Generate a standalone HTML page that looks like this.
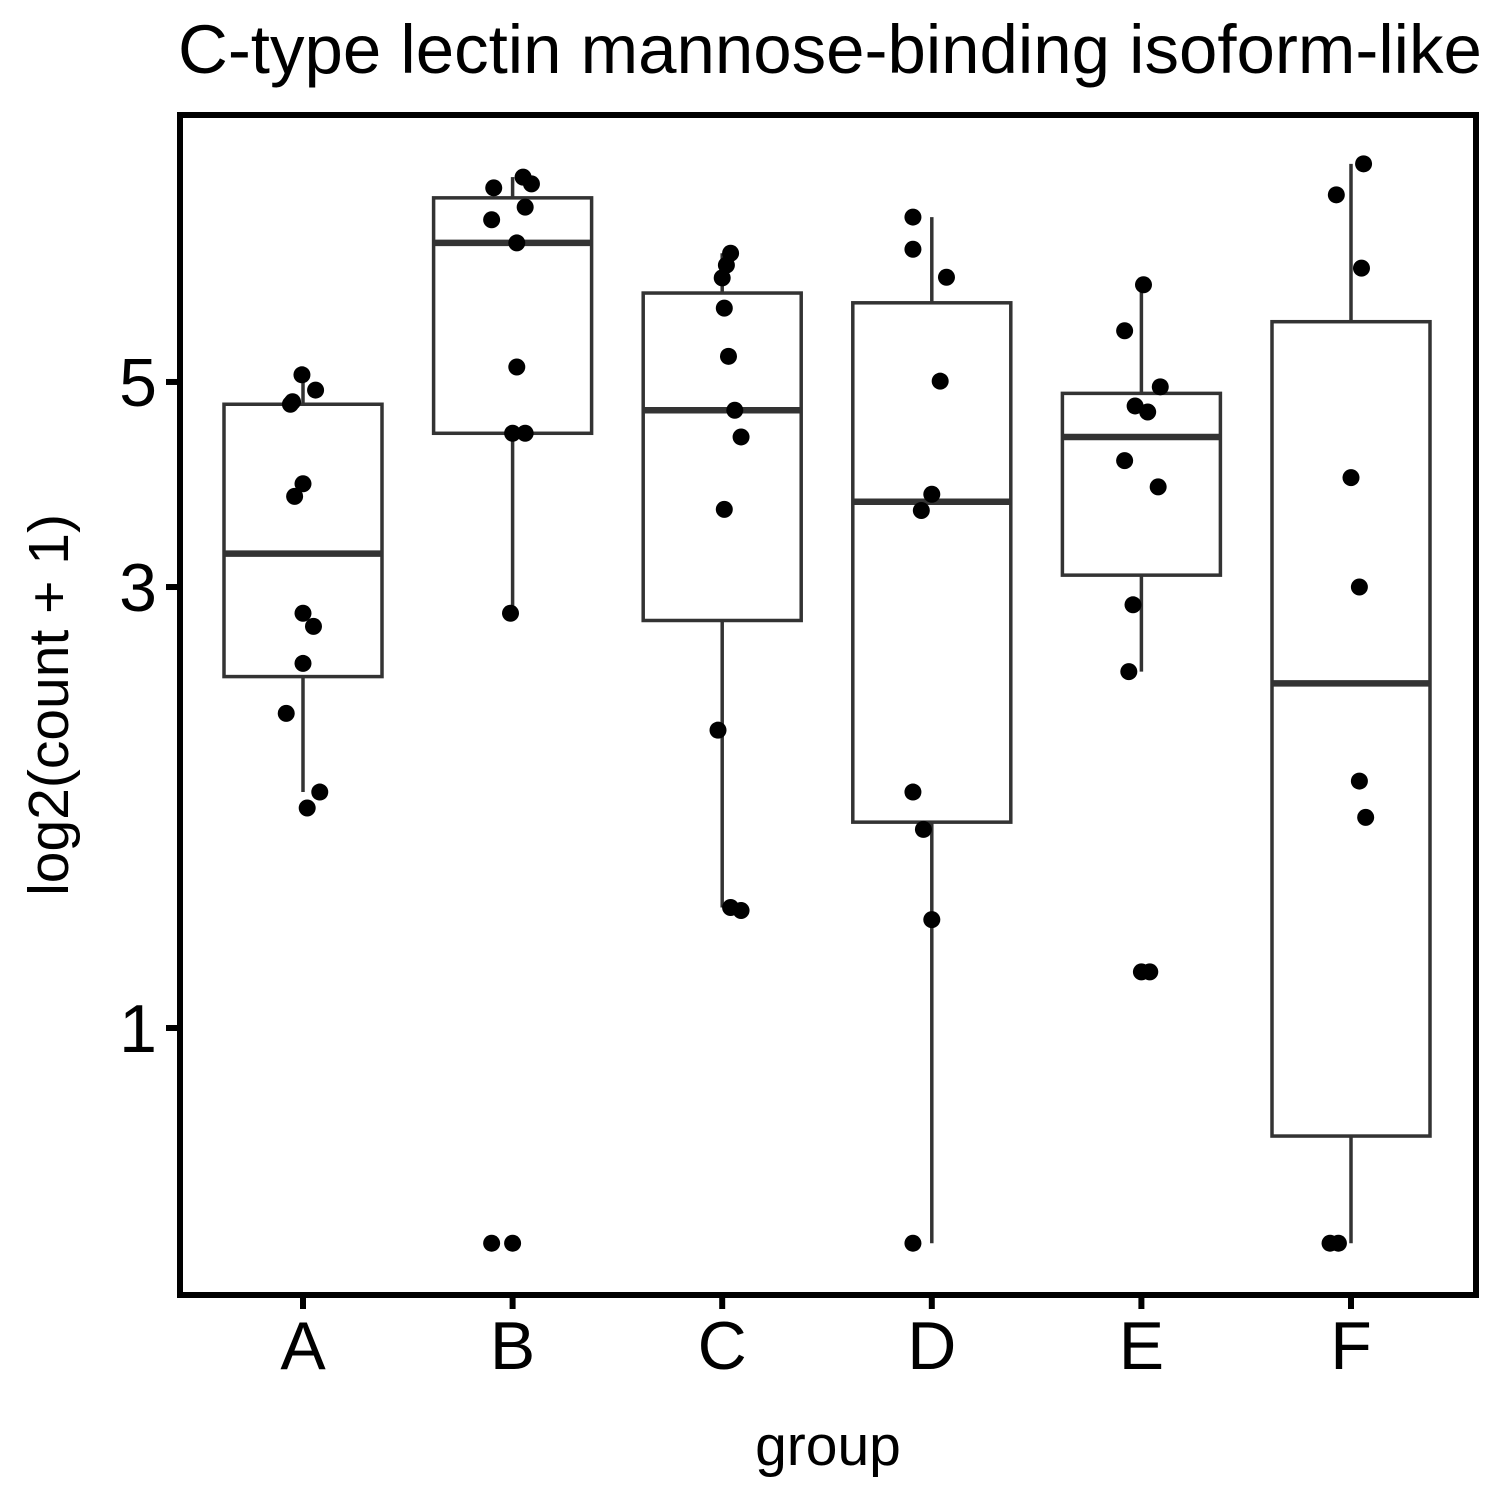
<!DOCTYPE html>
<html><head><meta charset="utf-8"><style>
body{margin:0;background:#fff}
text{font-family:"Liberation Sans",sans-serif}
</style></head><body>
<svg id="chart" width="1500" height="1500" viewBox="0 0 1500 1500" xmlns="http://www.w3.org/2000/svg">
<rect width="1500" height="1500" fill="#fff"/>
<text x="178" y="73" font-size="69">C-type lectin mannose-binding isoform-like</text>
<g id="marks"></g>
<rect x="180" y="115" width="1296" height="1180" fill="none" stroke="#000" stroke-width="6"/>
<g id="axes"></g>
<text x="828" y="1465" font-size="57" text-anchor="middle">group</text>
<text transform="translate(68,705) rotate(-90)" font-size="57" text-anchor="middle">log2(count + 1)</text>
</svg>
<script>
const categories = ["A","B","C","D","E","F"];
const yTicks = [1,3,5];
const q1 = [2.40,4.40,2.76,1.67,3.09,0.764];
const median = [3.26,7.07,4.66,3.71,4.36,2.36];
const q3 = [4.73,7.91,6.24,6.09,4.86,5.81];
const whiskerLow = [1.80,2.81,1.35,0.585,2.43,0.585];
const whiskerHigh = [5.0,8.33,6.89,7.54,6.37,8.61];
const pointsA = [5.09,4.90,4.73,4.76,3.88,3.76,2.81,2.72,2.48,2.19,1.80,1.73];
const pointsB = [8.11,8.33,8.19,7.49,7.73,7.07,5.19,4.40,4.40,2.81,0.585,0.585];
const pointsC = [6.89,6.69,6.48,6.01,5.33,4.66,4.36,3.64,2.10,1.35,1.34];
const pointsD = [7.54,6.96,6.49,5.01,3.78,3.63,1.80,1.64,1.31,0.585];
const pointsE = [6.37,5.68,4.94,4.71,4.64,4.11,3.85,2.87,2.43,1.15,1.15];
const pointsF = [8.61,7.97,6.64,3.94,3.0,1.85,1.69,0.585,0.585];
const jitterA = [-0.005,0.06,-0.06,-0.05,0,-0.04,0,0.05,0,-0.08,0.08,0.02];
const jitterB = [-0.09,0.05,0.09,-0.10,0.06,0.02,0.02,0,0.06,-0.01,-0.10,0];
const jitterC = [0.04,0.02,0,0.01,0.03,0.06,0.09,0.01,-0.02,0.04,0.09];
const jitterD = [-0.09,-0.09,0.07,0.04,0,-0.05,-0.09,-0.04,0,-0.09];
const jitterE = [0.01,-0.08,0.09,-0.03,0.03,-0.08,0.08,-0.04,-0.06,0,0.04];
const jitterF = [0.06,-0.07,0.05,0,0.04,0.04,0.07,-0.10,-0.06];
const allPoints=[pointsA,pointsB,pointsC,pointsD,pointsE,pointsF];
const allJitter=[jitterA,jitterB,jitterC,jitterD,jitterE,jitterF];
const NS="http://www.w3.org/2000/svg";
function xScale(i){return 303+i*209.6;}
const bandW=209.6;
function yScale(v){return 1028-401.4*Math.log(v);}
function mk(tag,attrs,parent){const e=document.createElementNS(NS,tag);for(const k in attrs)e.setAttribute(k,attrs[k]);parent.appendChild(e);return e;}
const marks=document.getElementById('marks'),axes=document.getElementById('axes');
const half=79;
categories.forEach((c,i)=>{
  const cx=xScale(i);
  const g=mk('g',{},marks);
  
  
  const w1=mk('line',{x1:cx,x2:cx,y1:yScale(whiskerHigh[i]),y2:yScale(q3[i]),stroke:'#333','stroke-width':3.5},g);
  
  
  const w2=mk('line',{x1:cx,x2:cx,y1:yScale(q1[i]),y2:yScale(whiskerLow[i]),stroke:'#333','stroke-width':3.5},g);
  
  
  const r=mk('rect',{x:cx-half,y:yScale(q3[i]),width:2*half,height:yScale(q1[i])-yScale(q3[i]),fill:'#fff',stroke:'#333','stroke-width':3.5},g);
  
  
  const m=mk('line',{x1:cx-half,x2:cx+half,y1:yScale(median[i]),y2:yScale(median[i]),stroke:'#333','stroke-width':6.5},g);
  
  
  allPoints[i].forEach((v,j)=>{
    const p=mk('circle',{cx:cx+allJitter[i][j]*bandW,cy:yScale(v),r:8.5,fill:'#000'},g);
    
    
  });
  const t=mk('line',{x1:cx,x2:cx,y1:1295,y2:1309,stroke:'#000','stroke-width':6},axes);
  
  
  const l=mk('text',{x:cx,y:1369,'font-size':68,'text-anchor':'middle'},axes);
  l.textContent=c;
  
  
});
yTicks.forEach(v=>{
  const y=yScale(v);
  const t=mk('line',{x1:166,x2:180,y1:y,y2:y,stroke:'#000','stroke-width':6},axes);
  
  
  const l=mk('text',{x:157,y:y+24,'font-size':68,'text-anchor':'end'},axes);
  l.textContent=v;
  
  
});
</script>
</body></html>
